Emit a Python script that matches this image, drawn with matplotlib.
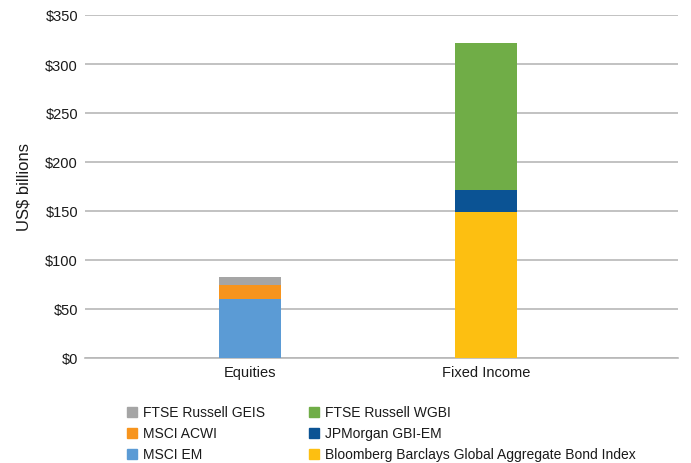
import matplotlib
matplotlib.use("Agg")
import matplotlib.pyplot as plt
from matplotlib.patches import Rectangle

categories = ["Equities", "Fixed Income"]
series_names = ["MSCI EM", "MSCI ACWI", "FTSE Russell GEIS",
                "Bloomberg Barclays Global Aggregate Bond Index", "JPMorgan GBI-EM", "FTSE Russell WGBI"]
series_values = [
    [60, 0],
    [15, 0],
    [8, 0],
    [0, 149],
    [0, 22],
    [0, 150],
]
colors = ["#5B9BD5", "#F7941D", "#A5A5A5", "#FDBF11", "#0B5394", "#70AD47"]
yticks = [0, 50, 100, 150, 200, 250, 300, 350]
ytick_labels = ["$0", "$50", "$100", "$150", "$200", "$250", "$300", "$350"]
legend_order = ["FTSE Russell GEIS", "MSCI ACWI", "MSCI EM",
                "FTSE Russell WGBI", "JPMorgan GBI-EM", "Bloomberg Barclays Global Aggregate Bond Index"]

plt.rcParams['font.family'] = ["Liberation Sans", "DejaVu Sans"]

fig = plt.figure(figsize=(6.91, 4.64), dpi=100)
ax = fig.add_axes([85/691, 1-359/464, (678-85)/691, (359-16)/464])

x = list(range(len(categories)))
bottom = [0]*len(categories)
for name, vals, c in zip(series_names, series_values, colors):
    ax.bar(x, vals, bottom=bottom, width=0.263, color=c, label=name, zorder=3)
    bottom = [b+v for b, v in zip(bottom, vals)]

ax.set_xlim(-0.699, 1.814)
ax.set_ylim(0, 350)
ax.set_yticks(yticks)
ax.set_yticklabels(ytick_labels, fontsize=10.5, color="#1a1a1a")
ax.set_xticks(x)
ax.set_xticklabels(categories, fontsize=10.5, color="#1a1a1a")
ax.tick_params(axis='y', length=0, pad=5)
ax.tick_params(axis='x', length=0, pad=5)
ax.grid(axis='y', color="#B8B8B8", linewidth=1.2, zorder=0)
for s in ["top", "right", "left"]:
    ax.spines[s].set_visible(False)
ax.spines["bottom"].set_color("#B8B8B8")
ax.spines["bottom"].set_linewidth(1.2)
ax.set_ylabel("US$ billions", fontsize=12, color="#1a1a1a", labelpad=10)

# legend drawn manually, two columns
col_x = [127, 309]
row_y = [413, 434, 455]
for i, name in enumerate(legend_order):
    c = colors[series_names.index(name)]
    cx = col_x[i // 3]
    cy = row_y[i % 3]
    fig.patches.append(Rectangle((cx/691, 1-(cy+5)/464), 10/691, 10/464,
                                 transform=fig.transFigure, color=c))
    fig.text((cx+16)/691, 1-cy/464, name, fontsize=10, va='center', ha='left', color="#1a1a1a")

fig.savefig("out.png", dpi=100)
